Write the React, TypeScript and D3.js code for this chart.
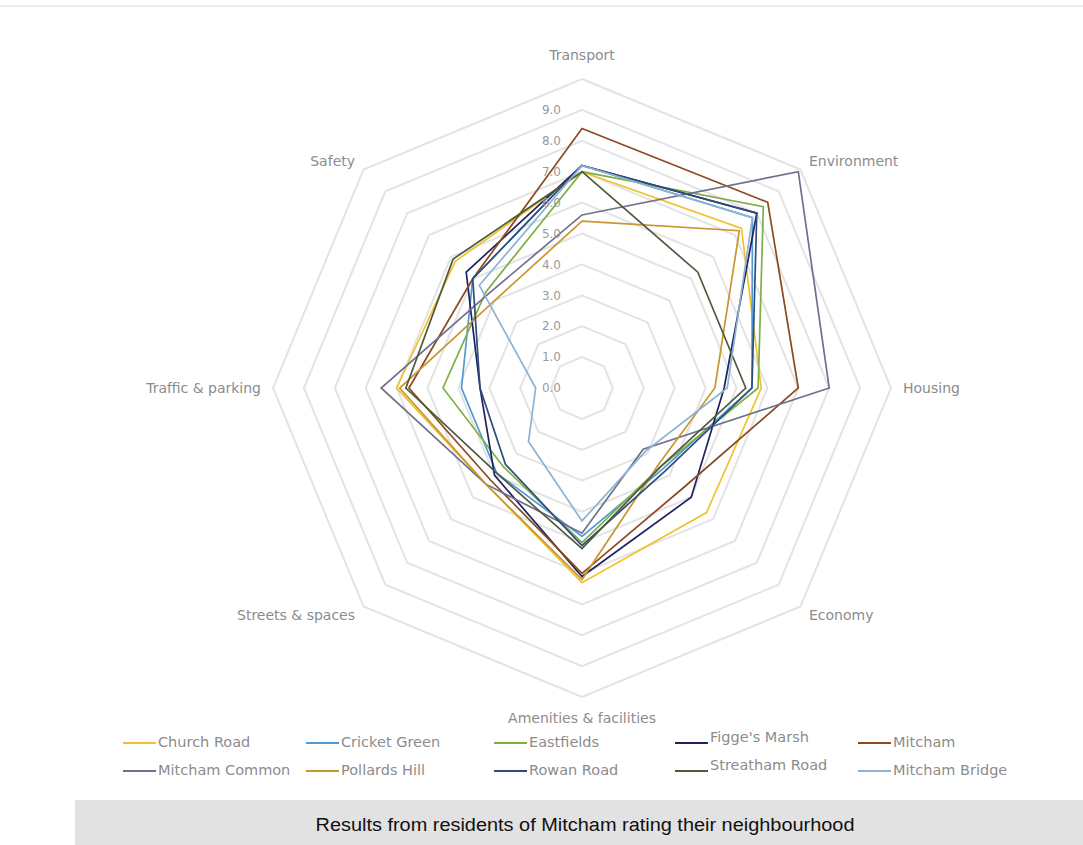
import React from "react";
import * as d3 from "d3";

const categories = [
  "Transport",
  "Environment",
  "Housing",
  "Economy",
  "Amenities & facilities",
  "Streets & spaces",
  "Traffic & parking",
  "Safety",
];

const seriesNames = [
  "Church Road",
  "Cricket Green",
  "Eastfields",
  "Figge's Marsh",
  "Mitcham",
  "Mitcham Common",
  "Pollards Hill",
  "Rowan Road",
  "Streatham Road",
  "Mitcham Bridge",
];

const churchRoad = [7.0, 7.3, 5.8, 5.7, 6.3, 4.4, 6.0, 5.8];
const cricketGreen = [7.2, 7.8, 5.5, 3.7, 4.8, 3.9, 3.9, 5.0];
const eastfields = [7.0, 8.3, 5.7, 3.6, 5.0, 3.6, 4.5, 4.4];
const figgesMarsh = [7.2, 8.0, 4.6, 5.0, 6.1, 4.0, 3.3, 5.3];
const mitcham = [8.4, 8.5, 7.0, 4.6, 6.0, 4.2, 5.6, 5.0];
const mitchamCommon = [5.6, 9.9, 8.0, 2.8, 4.7, 4.4, 6.5, 4.3];
const pollardsHill = [5.4, 7.2, 4.3, 3.5, 6.2, 4.4, 5.9, 4.0];
const rowanRoad = [7.2, 8.0, 5.5, 3.8, 5.1, 3.5, 3.3, 5.0];
const streathamRoad = [7.0, 5.3, 5.3, 3.6, 5.2, 3.9, 5.7, 5.9];
const mitchamBridge = [7.2, 7.8, 4.7, 2.9, 4.3, 2.45, 1.5, 4.7];

const seriesValues = [
  churchRoad,
  cricketGreen,
  eastfields,
  figgesMarsh,
  mitcham,
  mitchamCommon,
  pollardsHill,
  rowanRoad,
  streathamRoad,
  mitchamBridge,
];

const seriesColors = [
  "#f0c22e",
  "#4f9bd4",
  "#7fae45",
  "#1e2262",
  "#8b4a22",
  "#6f6f8e",
  "#c8962e",
  "#2f4c7c",
  "#4e5a3c",
  "#8db2d3",
];

const tickValues = [0, 1, 2, 3, 4, 5, 6, 7, 8, 9];
const ringValues = [1, 2, 3, 4, 5, 6, 7, 8, 9, 10];

const title = "Results from residents of Mitcham rating their neighbourhood";

const W = 1083;
const H = 845;
const cx = 582;
const cy = 388;
const R = 309;

export default function App() {
  const r = d3.scaleLinear().domain([0, 10]).range([0, R]);
  const angle = d3
    .scalePoint<number>()
    .domain(d3.range(categories.length + 1))
    .range([0, 2 * Math.PI]);

  const radial = d3
    .lineRadial<number>()
    .angle((_, i) => angle(i) as number)
    .radius((d) => r(d))
    .curve(d3.curveLinearClosed);

  const ring = (v: number) => radial(categories.map(() => v)) as string;

  const labelFont = "'DejaVu Sans', sans-serif";
  const gray = "#8c8c8c";

  const legendCols = [123, 306, 494, 675, 858];
  const legendRows = [743, 771];

  return (
    <svg
      width={W}
      height={H}
      style={{ position: "absolute", left: 0, top: 0, background: "#fff" }}
    >
      <line x1={0} x2={W} y1={6} y2={6} stroke="#ececec" strokeWidth={2} />
      <g transform={`translate(${cx},${cy})`}>
        {ringValues.map((v) => (
          <path key={v} d={ring(v)} fill="none" stroke="#e3e3e3" strokeWidth={2} />
        ))}
        {seriesValues.map((vals, i) => (
          <path
            key={seriesNames[i]}
            d={radial(vals) as string}
            fill="none"
            stroke={seriesColors[i]}
            strokeWidth={1.7}
            strokeLinejoin="miter"
          />
        ))}
        {tickValues.map((v) => (
          <text
            key={v}
            x={-21}
            y={-r(v)}
            dy="0.35em"
            textAnchor="end"
            fontFamily={labelFont}
            fontSize={12}
            fill="#9a9a9a"
          >
            {v.toFixed(1)}
          </text>
        ))}
        {categories.map((c, i) => {
          const a = angle(i) as number;
          const s = Math.sin(a);
          const co = Math.cos(a);
          const rr = R + 12;
          let x = rr * s;
          let y = -rr * co;
          let anchor = "middle";
          if (s > 0.1) anchor = "start";
          if (s < -0.1) anchor = "end";
          if (Math.abs(s) < 0.1) {
            y += co > 0 ? -12 : 9;
          }
          return (
            <text
              key={c}
              x={x}
              y={y}
              dy="0.35em"
              textAnchor={anchor}
              fontFamily={labelFont}
              fontSize={14}
              fill={gray}
            >
              {c}
            </text>
          );
        })}
      </g>
      <g>
        {seriesNames.map((n, i) => {
          const col = i % 5;
          const row = Math.floor(i / 5);
          const x = legendCols[col];
          const y = legendRows[row];
          const raised = col === 3 ? -5 : 0;
          return (
            <g key={n}>
              <line
                x1={x}
                x2={x + 33}
                y1={y}
                y2={y}
                stroke={seriesColors[i]}
                strokeWidth={2}
              />
              <text
                x={x + 35}
                y={y + raised}
                dy="0.3em"
                fontFamily={labelFont}
                fontSize={14.5}
                fill={gray}
              >
                {n}
              </text>
            </g>
          );
        })}
      </g>
      <rect x={75} y={800} width={W - 75} height={H - 800} fill="#e2e2e2" />
      <text
        x={585}
        y={826}
        textAnchor="middle"
        dominantBaseline="middle"
        fontFamily="'Liberation Sans', Arial, sans-serif"
        fontSize={18}
        textLength={539}
        lengthAdjust="spacingAndGlyphs"
        fill="#111"
      >
        {title}
      </text>
    </svg>
  );
}
